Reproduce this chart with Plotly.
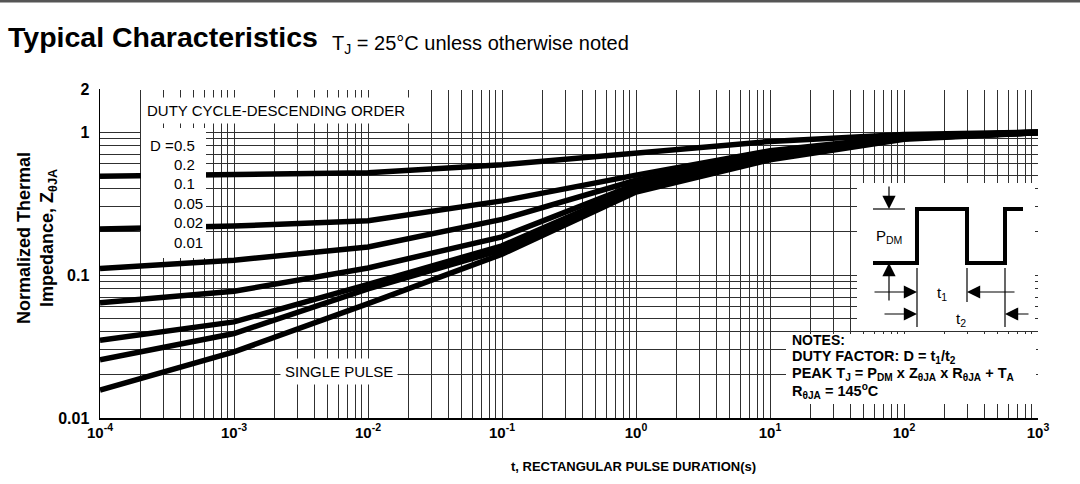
import math
import plotly.graph_objects as go

# ---------------- data ----------------
t = [1e-4, 1e-3, 1e-2, 1e-1, 1e0, 1e1, 1e2, 1e3]
z_d050 = [0.49, 0.50, 0.52, 0.59, 0.71, 0.86, 0.96, 1.00]
z_d020 = [0.21, 0.22, 0.24, 0.33, 0.50, 0.74, 0.93, 1.00]
z_d010 = [0.111, 0.127, 0.157, 0.245, 0.46, 0.71, 0.92, 1.00]
z_d005 = [0.064, 0.077, 0.112, 0.185, 0.43, 0.69, 0.91, 0.99]
z_d002 = [0.035, 0.047, 0.086, 0.160, 0.41, 0.67, 0.90, 0.99]
z_d001 = [0.0255, 0.039, 0.080, 0.150, 0.40, 0.66, 0.90, 0.99]
z_single = [0.0157, 0.029, 0.063, 0.140, 0.38, 0.64, 0.89, 0.99]

series_names = ["D = 0.5", "D = 0.2", "D = 0.1", "D = 0.05", "D = 0.02", "D = 0.01", "Single pulse"]
series_values = [z_d050, z_d020, z_d010, z_d005, z_d002, z_d001, z_single]

x_tickvals = [1e-4, 1e-3, 1e-2, 1e-1, 1e0, 1e1, 1e2, 1e3]
x_ticktext = ["10<sup>-4</sup>", "10<sup>-3</sup>", "10<sup>-2</sup>", "10<sup>-1</sup>",
              "10<sup>0</sup>", "10<sup>1</sup>", "10<sup>2</sup>", "10<sup>3</sup>"]
y_tickvals = [0.01, 0.1, 1, 2]
y_ticktext = ["0.01", "0.1", "1", "2"]
duty_labels = ["0.5", "0.2", "0.1", "0.05", "0.02", "0.01"]

# ---------------- layout geometry ----------------
W, H = 1080, 484
L, R, T, B = 100, 42, 89, 66
PW = W - L - R
PH = H - T - B


def px(x):
    return (x - L) / PW


def py(y):
    return (H - B - y) / PH


FONT = "Liberation Sans, Arial, sans-serif"
GRID = "#303030"

fig = go.Figure()
for name, z in zip(series_names, series_values):
    fig.add_trace(go.Scatter(x=t, y=z, mode="lines", name=name,
                             line=dict(color="black", width=5.5),
                             hoverinfo="skip", showlegend=False))

x_minor = [k * 10.0 ** n for n in range(-4, 3) for k in range(2, 10)]
y_minor = [k * 10.0 ** n for n in range(-2, 0) for k in range(2, 10)]

fig.update_layout(
    width=W, height=H,
    margin=dict(l=L, r=R, t=T, b=B, autoexpand=False),
    paper_bgcolor="white", plot_bgcolor="white",
    showlegend=False,
    font=dict(family=FONT, color="black"),
    xaxis=dict(
        type="log", range=[-4, 3], tickmode="array",
        tickvals=x_tickvals, ticktext=x_ticktext,
        showgrid=True, gridcolor=GRID, gridwidth=1,
        minor=dict(tickmode="array", tickvals=x_minor, showgrid=True,
                   gridcolor=GRID, gridwidth=1, ticks=""),
        showline=True, linecolor="black", linewidth=1.5,
        ticks="", zeroline=False,
        tickfont=dict(family=FONT, size=15, color="black", weight="bold"),
    ),
    yaxis=dict(
        type="log", range=[-2, math.log10(2)], tickmode="array",
        tickvals=y_tickvals, ticktext=y_ticktext,
        showgrid=True, gridcolor=GRID, gridwidth=1,
        minor=dict(tickmode="array", tickvals=y_minor, showgrid=True,
                   gridcolor=GRID, gridwidth=1, ticks=""),
        showline=True, linecolor="black", linewidth=1.5,
        ticks="", zeroline=False, ticklabelstandoff=6,
        tickfont=dict(family=FONT, size=16, color="black", weight="bold"),
    ),
)

shapes = []
# top dark bar of the page
shapes.append(dict(type="rect", xref="paper", yref="paper",
                   x0=px(0), x1=px(W), y0=py(2.5), y1=py(0),
                   fillcolor="#555555", line=dict(width=0), layer="above"))
# hide gridline at the top edge (value 2)
shapes.append(dict(type="line", xref="paper", yref="paper",
                   x0=px(L + 1), x1=px(W - R + 1), y0=1, y1=1,
                   line=dict(color="white", width=2), layer="above"))
# white boxes
for (x0, y0, x1, y1) in [(141, 128, 206, 258), (857, 183, 1035, 331), (786, 334, 1036, 404)]:
    shapes.append(dict(type="rect", xref="paper", yref="paper",
                       x0=px(x0), x1=px(x1), y0=py(y1), y1=py(y0),
                       fillcolor="white", line=dict(width=0), layer="above"))
# pulse waveform
wave = [(873, 263), (917, 263), (917, 209), (967, 209), (967, 263), (1005, 263), (1005, 209), (1023, 209)]
path = "M " + " L ".join(f"{px(a):.5f} {py(b):.5f}" for a, b in wave)
shapes.append(dict(type="path", xref="paper", yref="paper", path=path,
                   line=dict(color="black", width=4), layer="above"))
# thin reference lines
for (a0, b0, a1, b1) in [(873, 209, 905, 209), (917, 268, 917, 327),
                         (967, 268, 967, 302), (1005, 268, 1005, 327)]:
    shapes.append(dict(type="line", xref="paper", yref="paper",
                       x0=px(a0), y0=py(b0), x1=px(a1), y1=py(b1),
                       line=dict(color="black", width=1.2), layer="above"))
fig.update_layout(shapes=shapes)

ann = []


def text(xp, yp, s, size, bold=False, xanchor="center", yanchor="middle", **kw):
    ann.append(dict(xref="paper", yref="paper", x=px(xp), y=py(yp), text=s,
                    showarrow=False, xanchor=xanchor, yanchor=yanchor,
                    font=dict(family=FONT, size=size, color="black",
                              weight="bold" if bold else "normal"), **kw))


# titles
text(6, 37, "Typical Characteristics", 28.5, bold=True, xanchor="left")
text(330, 44, "T<sub>J</sub> = 25°C unless otherwise noted", 20, xanchor="left")
text(37, 238, "Normalized Thermal<br>Impedance, Z<sub>θJA</sub>", 18, bold=True, textangle=-90)
text(633, 466, "t, RECTANGULAR PULSE DURATION(s)", 13, bold=True)

# duty cycle labels
text(276, 110, "DUTY CYCLE-DESCENDING ORDER", 15, bgcolor="white", borderpad=4)
text(148, 145, "D =", 15, xanchor="left")
for i, lab in enumerate(duty_labels):
    text(172, 145 + i * 19.4, lab, 15, xanchor="left")
text(339, 371, "SINGLE PULSE", 15, bgcolor="white", borderpad=4)

# notes
text(790, 340, "NOTES:", 14, bold=True, xanchor="left")
text(790, 357, "DUTY FACTOR: D = t<sub>1</sub>/t<sub>2</sub>", 14.5, bold=True, xanchor="left")
text(790, 374, "PEAK T<sub>J</sub> = P<sub>DM</sub> x Z<sub>θJA</sub> x R<sub>θJA</sub> + T<sub>A</sub>", 14.5, bold=True, xanchor="left")
text(790, 391, "R<sub>θJA</sub> = 145<sup>o</sup>C", 14.5, bold=True, xanchor="left")

# inset labels
text(889, 237, "P<sub>DM</sub>", 15)
text(942, 293, "t<sub>1</sub>", 15)
text(961, 319, "t<sub>2</sub>", 15)

# inset arrows (head, tail)
for (hx, hy, tx, ty) in [(889, 209, 889, 185), (889, 263, 889, 302),
                         (917, 292, 873, 292), (967, 292, 1016, 292),
                         (917, 314, 883, 314), (1005, 314, 1030, 314)]:
    ann.append(dict(xref="paper", yref="paper", x=px(hx), y=py(hy), text="",
                    showarrow=True, ax=tx - hx, ay=ty - hy, axref="pixel", ayref="pixel",
                    arrowhead=2, arrowsize=2.2, arrowwidth=1.2, arrowcolor="black",
                    standoff=0, startstandoff=0))

fig.update_layout(annotations=ann)

fig.write_html("out.html",
               config={"displayModeBar": False, "staticPlot": True},
               post_script="document.body.style.margin='0px';document.body.style.overflow='hidden';")
